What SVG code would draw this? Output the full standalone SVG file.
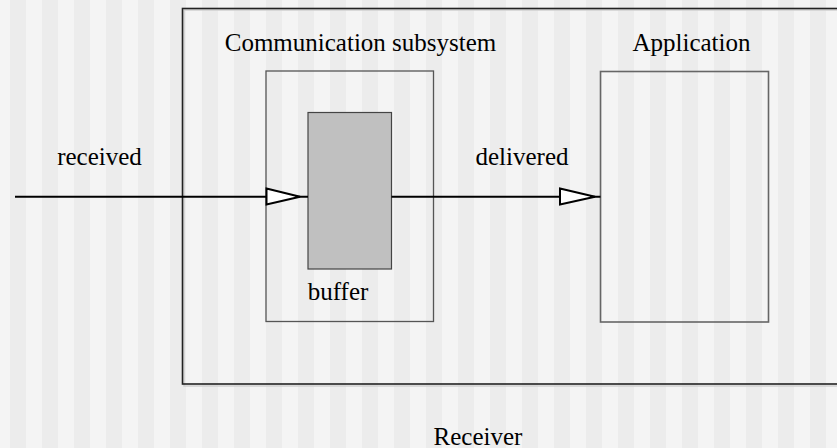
<svg xmlns="http://www.w3.org/2000/svg" width="837" height="448" viewBox="0 0 837 448">
<defs>
<pattern id="stripes" x="10" y="0" width="32" height="448" patternUnits="userSpaceOnUse">
<rect x="0" y="0" width="16" height="448" fill="#ececec"/>
<rect x="16" y="0" width="16" height="448" fill="#f4f4f4"/>
</pattern>
</defs>
<style>
.box{fill:none;stroke:#555;stroke-width:1.3}
.line{stroke:#000;stroke-width:2;fill:none}
.head{fill:#fff;stroke:#000;stroke-width:2;stroke-linejoin:miter}
</style>
<rect x="0" y="0" width="837" height="448" fill="url(#stripes)"/>
<g font-family="'Liberation Serif', 'DejaVu Serif', serif" font-size="25" text-anchor="middle" fill="#000">
<g id="receiver">
<path d="M183,9 H840 M183,9 V385 H840" fill="none" stroke="#d0d0d0" stroke-width="1.5" transform="translate(1,1)"/>
<rect x="182.5" y="8.5" width="700" height="375.5" fill="none" stroke="#222" stroke-width="1.6"/>
<text x="478" y="444.5">Receiver</text>
</g>
<g id="comm">
<rect class="box" x="266" y="71" width="167.5" height="250.5"/>
<text x="360.5" y="51">Communication subsystem</text>
</g>
<g id="buffer">
<rect x="308" y="112.5" width="83.5" height="156.5" fill="#c0c0c0" stroke="#444" stroke-width="1.2"/>
<text x="338" y="300">buffer</text>
</g>
<g id="application">
<rect x="600.5" y="71.5" width="168" height="250.5" fill="none" stroke="#666" stroke-width="1.6"/>
<text x="691.5" y="51">Application</text>
</g>
<g id="connectors">
<line class="line" x1="15" y1="196.7" x2="308" y2="196.7"/>
<polygon class="head" points="266.5,188.5 300,196.7 266.5,204.5"/>
<line class="line" x1="391.5" y1="196.7" x2="600.5" y2="196.7"/>
<polygon class="head" points="560,188.5 595,196.7 560,204.5"/>
<text x="99.5" y="165">received</text>
<text x="522" y="165">delivered</text>
</g>
</g>
</svg>
